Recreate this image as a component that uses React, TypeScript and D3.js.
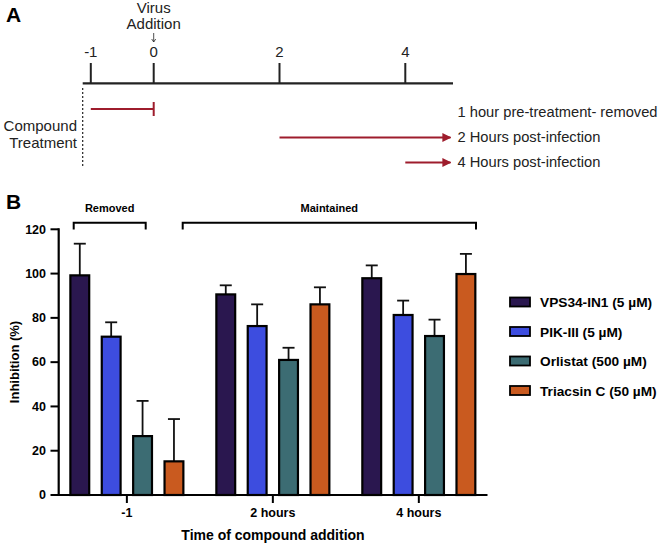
import React from "react";
import * as d3 from "d3";

const groups = ["-1", "2 hours", "4 hours"];
const seriesNames = ["VPS34-IN1 (5 µM)", "PIK-III (5 µM)", "Orlistat (500 µM)", "Triacsin C (50 µM)"];
const seriesColors = ["#2a174f", "#3d4ddf", "#3c6c73", "#c95a1f"];
// values[series][group]
const vps34 = [99.2, 90.6, 97.9];
const pik3 = [71.5, 76.3, 81.3];
const orlistat = [26.6, 61.0, 71.8];
const triacsin = [15.2, 86.1, 99.8];
const vps34Err = [14.3, 4.1, 5.8];
const pik3Err = [6.5, 9.8, 6.5];
const orlistatErr = [15.9, 5.5, 7.4];
const triacsinErr = [19.1, 7.7, 9.1];
const yTicks = [0, 20, 40, 60, 80, 100, 120];
const timeTicks = [-1, 0, 2, 4];
const treatments = [
  { label: "1 hour pre-treatment- removed", start: -1, end: 0, kind: "bar" },
  { label: "2 Hours post-infection", start: 2, end: 4.75, kind: "arrow" },
  { label: "4 Hours post-infection", start: 4, end: 4.75, kind: "arrow" },
];

const values = [vps34, pik3, orlistat, triacsin];
const errors = [vps34Err, pik3Err, orlistatErr, triacsinErr];

const RED = "#9e1c2c";
const FONT = "'Liberation Sans', Arial, Helvetica, sans-serif";

export default function App() {
  // Panel A
  const tx = d3.scaleLinear().domain([0, 4]).range([153.7, 405.3]);
  const axisY = 83.3;
  const lineRows = [109, 137.5, 162.5];
  const textRows = [116.5, 141.5, 166.5];

  // Panel B
  const x0 = d3.scalePoint<string>().domain(groups).range([58.7, 487]).padding(0.467);
  const x1 = d3.scaleBand<number>().domain([0, 1, 2, 3]).range([-56.5, 56.5]).paddingInner(0.4).paddingOuter(0);
  const y = d3.scaleLinear().domain([0, 120]).range([495, 229.3]);
  const bw = x1.bandwidth();

  return (
    <svg width={660} height={543} style={{ position: "absolute", left: 0, top: 0, background: "#fff" }} fontFamily={FONT}>
      <defs>
        <marker id="arrow" viewBox="0 0 10 10" refX="9" refY="5" markerWidth="4.5" markerHeight="4.5" orient="auto" markerUnits="strokeWidth">
          <path d="M0,0 L10,5 L0,10 Z" fill={RED} />
        </marker>
      </defs>

      {/* Panel labels */}
      <text x={6} y={22} fontSize={21} fontWeight="bold" fill="#000">A</text>
      <text x={6} y={209} fontSize={21} fontWeight="bold" fill="#000">B</text>

      {/* Panel A timeline */}
      <text x={tx(0)} y={12.5} fontSize={15} textAnchor="middle" fill="#222">Virus</text>
      <text x={tx(0)} y={28.5} fontSize={15} textAnchor="middle" fill="#222">Addition</text>
      <line x1={tx(0)} x2={tx(0)} y1={33} y2={42} stroke="#222" strokeWidth={0.8} />
      <path d={`M${tx(0) - 2},${39} L${tx(0)},${42} L${tx(0) + 2},${39}`} fill="none" stroke="#222" strokeWidth={0.8} />
      <line x1={82.7} x2={453} y1={axisY} y2={axisY} stroke="#222" strokeWidth={2.2} />
      {timeTicks.map((t) => (
        <g key={t}>
          <line x1={tx(t)} x2={tx(t)} y1={63} y2={axisY} stroke="#222" strokeWidth={2} />
          <text x={tx(t)} y={56.5} fontSize={15} textAnchor="middle" fill="#222">{t}</text>
        </g>
      ))}
      <line x1={82.7} x2={82.7} y1={88} y2={168} stroke="#222" strokeWidth={1.2} strokeDasharray="2,2" />
      <text x={77} y={130.5} fontSize={15} textAnchor="end" fill="#222">Compound</text>
      <text x={77} y={148} fontSize={15} textAnchor="end" fill="#222">Treatment</text>
      {treatments.map((tr, i) => (
        <g key={tr.label}>
          {tr.kind === "bar" ? (
            <>
              <line x1={tx(tr.start)} x2={tx(tr.end)} y1={lineRows[i]} y2={lineRows[i]} stroke={RED} strokeWidth={2} />
              <line x1={tx(tr.end)} x2={tx(tr.end)} y1={lineRows[i] - 7} y2={lineRows[i] + 7} stroke={RED} strokeWidth={2} />
            </>
          ) : (
            <line x1={tx(tr.start)} x2={tx(tr.end) - 2} y1={lineRows[i]} y2={lineRows[i]} stroke={RED} strokeWidth={2} markerEnd="url(#arrow)" />
          )}
          <text x={457.5} y={textRows[i]} fontSize={14.7} fill="#222">{tr.label}</text>
        </g>
      ))}

      {/* Panel B brackets */}
      <g stroke="#000" strokeWidth={2} fill="none">
        <path d="M73.7,229.5 V222.7 H145.7 V229.5" />
        <path d="M182.7,229.5 V222.7 H476 V229.5" />
      </g>
      <text x={109.7} y={212} fontSize={11} fontWeight="bold" textAnchor="middle">Removed</text>
      <text x={329.3} y={212} fontSize={11} fontWeight="bold" textAnchor="middle">Maintained</text>

      {/* Bars */}
      {groups.map((g, gi) => (
        <g key={g} transform={`translate(${x0(g)},0)`}>
          {values.map((vals, si) => {
            const bx = (x1(si) as number);
            const cx = bx + bw / 2;
            const top = y(vals[gi]);
            const et = y(vals[gi] + errors[si][gi]);
            return (
              <g key={si}>
                <line x1={cx} x2={cx} y1={top} y2={et} stroke="#111" strokeWidth={1.8} />
                <line x1={cx - 6} x2={cx + 6} y1={et} y2={et} stroke="#111" strokeWidth={1.8} />
                <rect x={bx} y={top} width={bw} height={y(0) - top} fill={seriesColors[si]} stroke="#000" strokeWidth={2.2} />
              </g>
            );
          })}
        </g>
      ))}

      {/* Y axis */}
      <line x1={58.7} x2={58.7} y1={228.3} y2={496} stroke="#000" strokeWidth={2.2} />
      {yTicks.map((t) => (
        <g key={t}>
          <line x1={50.5} x2={58.7} y1={y(t)} y2={y(t)} stroke="#000" strokeWidth={2} />
          <text x={46} y={y(t) + 4.3} fontSize={12.5} fontWeight="bold" textAnchor="end">{t}</text>
        </g>
      ))}
      <text transform={`translate(19,362) rotate(-90)`} fontSize={13} fontWeight="bold" textAnchor="middle">Inhibition (%)</text>

      {/* X axis */}
      <line x1={57.6} x2={487.5} y1={495} y2={495} stroke="#000" strokeWidth={2.2} />
      {groups.map((g) => (
        <g key={g}>
          <line x1={x0(g)} x2={x0(g)} y1={495} y2={503} stroke="#000" strokeWidth={2} />
          <text x={x0(g)} y={517} fontSize={12.5} fontWeight="bold" textAnchor="middle">{g}</text>
        </g>
      ))}
      <text x={273} y={540} fontSize={14} fontWeight="bold" textAnchor="middle">Time of compound addition</text>

      {/* Legend */}
      {seriesNames.map((n, i) => (
        <g key={n} transform={`translate(510,${297.5 + i * 29.5})`}>
          <rect x={0} y={0} width={20} height={9} fill={seriesColors[i]} stroke="#000" strokeWidth={1.8} />
          <text x={30} y={9.5} fontSize={13.7} fontWeight="bold">{n}</text>
        </g>
      ))}
    </svg>
  );
}
